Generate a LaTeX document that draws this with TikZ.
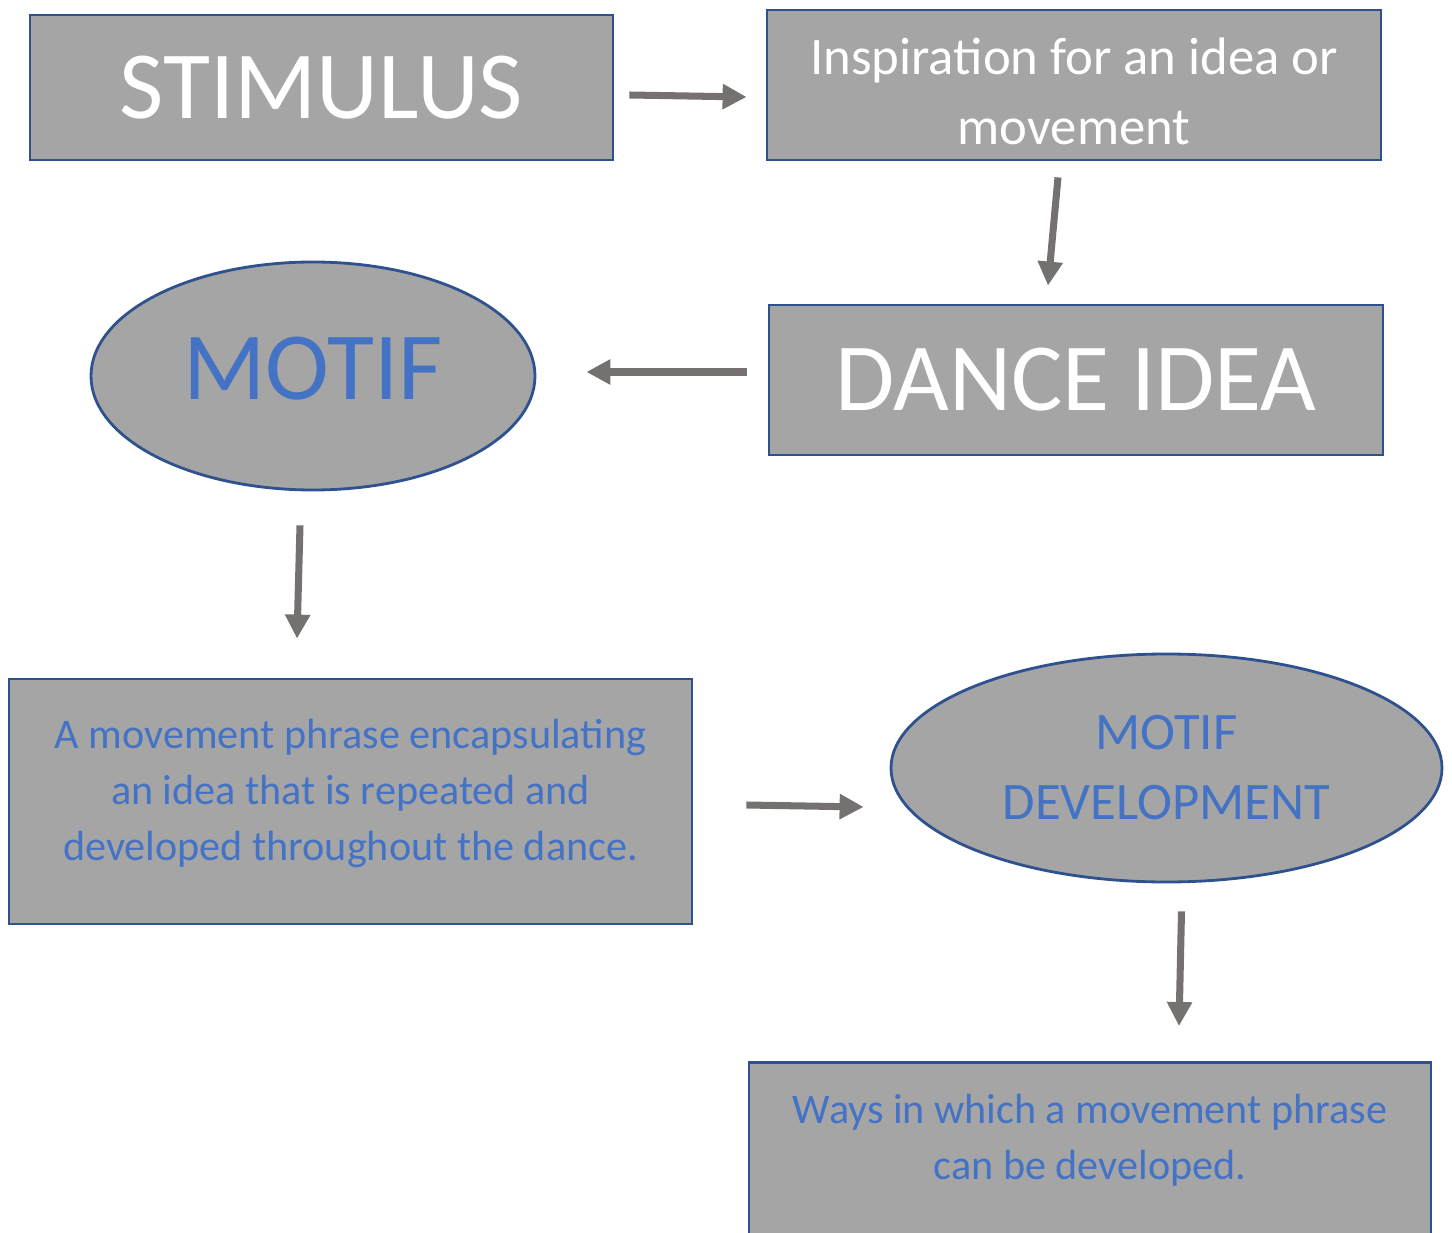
\documentclass[tikz,border=0pt]{standalone}
\usepackage{fontspec}
\setmainfont{Carlito}
\usetikzlibrary{arrows.meta,calc,shapes.geometric}

\definecolor{boxfill}{HTML}{A5A5A5}
\definecolor{boxline}{HTML}{2F528F}
\definecolor{txtblue}{HTML}{4472C4}
\definecolor{arrowgrey}{HTML}{767171}

\newcommand{\bigtxt}{\fontsize{27.4}{33}\selectfont}
\newcommand{\medtxt}{\fontsize{15}{19.9}\selectfont}
\newcommand{\smalltxt}{\fontsize{12}{15.9}\selectfont}

\begin{document}
\begin{tikzpicture}[
    box/.style={draw=boxline, line width=0.8pt, fill=boxfill, inner sep=0pt, align=center},
    oval/.style={ellipse, draw=boxline, line width=0.8pt, fill=boxfill, inner sep=0pt, align=center},
    flow/.style={draw=arrowgrey, line width=2pt, -{Triangle[length=0.24cm,width=0.24cm]}}
  ]

  \useasboundingbox (0,0) rectangle (14.52,-12.33);
  \clip (0,0) rectangle (14.52,-12.33);

  % Stimulus
  \node (stim) [box, minimum width=5.83cm, minimum height=1.45cm, text=white, font=\bigtxt]
    at (3.215,-0.875) {STIMULUS};

  % Inspiration
  \node (insp) [box, minimum width=6.14cm, minimum height=1.50cm, text=white, font=\medtxt]
    at (10.74,-0.85) {\rule{0pt}{14.3pt}Inspiration for an idea or\\ movement};

  % Dance idea
  \node (dance) [box, minimum width=6.14cm, minimum height=1.50cm, text=white, font=\bigtxt]
    at (10.76,-3.80) {DANCE IDEA};

  % Motif
  \node (motif) [oval, minimum width=4.44cm, minimum height=2.28cm, text=txtblue, font=\bigtxt, text depth=0.16cm]
    at (3.13,-3.76) {MOTIF};

  % Movement phrase
  \node (phrase) [box, minimum width=6.83cm, minimum height=2.45cm, text=txtblue, font=\smalltxt, text depth=0.23cm]
    at (3.505,-8.015) {A movement phrase encapsulating\\ an idea that is repeated and\\ developed throughout the dance.};

  % Motif development
  \node (dev) [oval, minimum width=5.51cm, minimum height=2.28cm, text=txtblue, font=\medtxt]
    at (11.665,-7.68) {MOTIF\\ DEVELOPMENT};

  % Ways
  \node (ways) [box, minimum width=6.82cm, minimum height=2.4cm, text=txtblue, font=\smalltxt, text depth=0.91cm, anchor=north]
    at (10.90,-10.61) {Ways in which a movement phrase\\ can be developed.};

  % Arrows
  \draw[flow] ($(stim.east)+(0.15,-0.075)$) -- ($(insp.west)+(-0.19,-0.12)$);
  \draw[flow] ($(insp.south)+(-0.16,-0.16)$) -- ($(dance.north)+(-0.28,0.18)$);
  \draw[flow] ($(dance.west)+(-0.21,0.08)$) -- ($(motif.east)+(0.50,0.04)$);
  \draw[flow] ($(motif.south)+(-0.13,-0.34)$) -- ($(phrase.north)+(-0.535,0.39)$);
  \draw[flow] ($(phrase.east)+(0.53,-0.035)$) -- ($(dev.west)+(-0.26,-0.39)$);
  \draw[flow] ($(dev.south)+(0.15,-0.28)$) -- ($(ways.north)+(0.89,0.35)$);

\end{tikzpicture}
\end{document}
